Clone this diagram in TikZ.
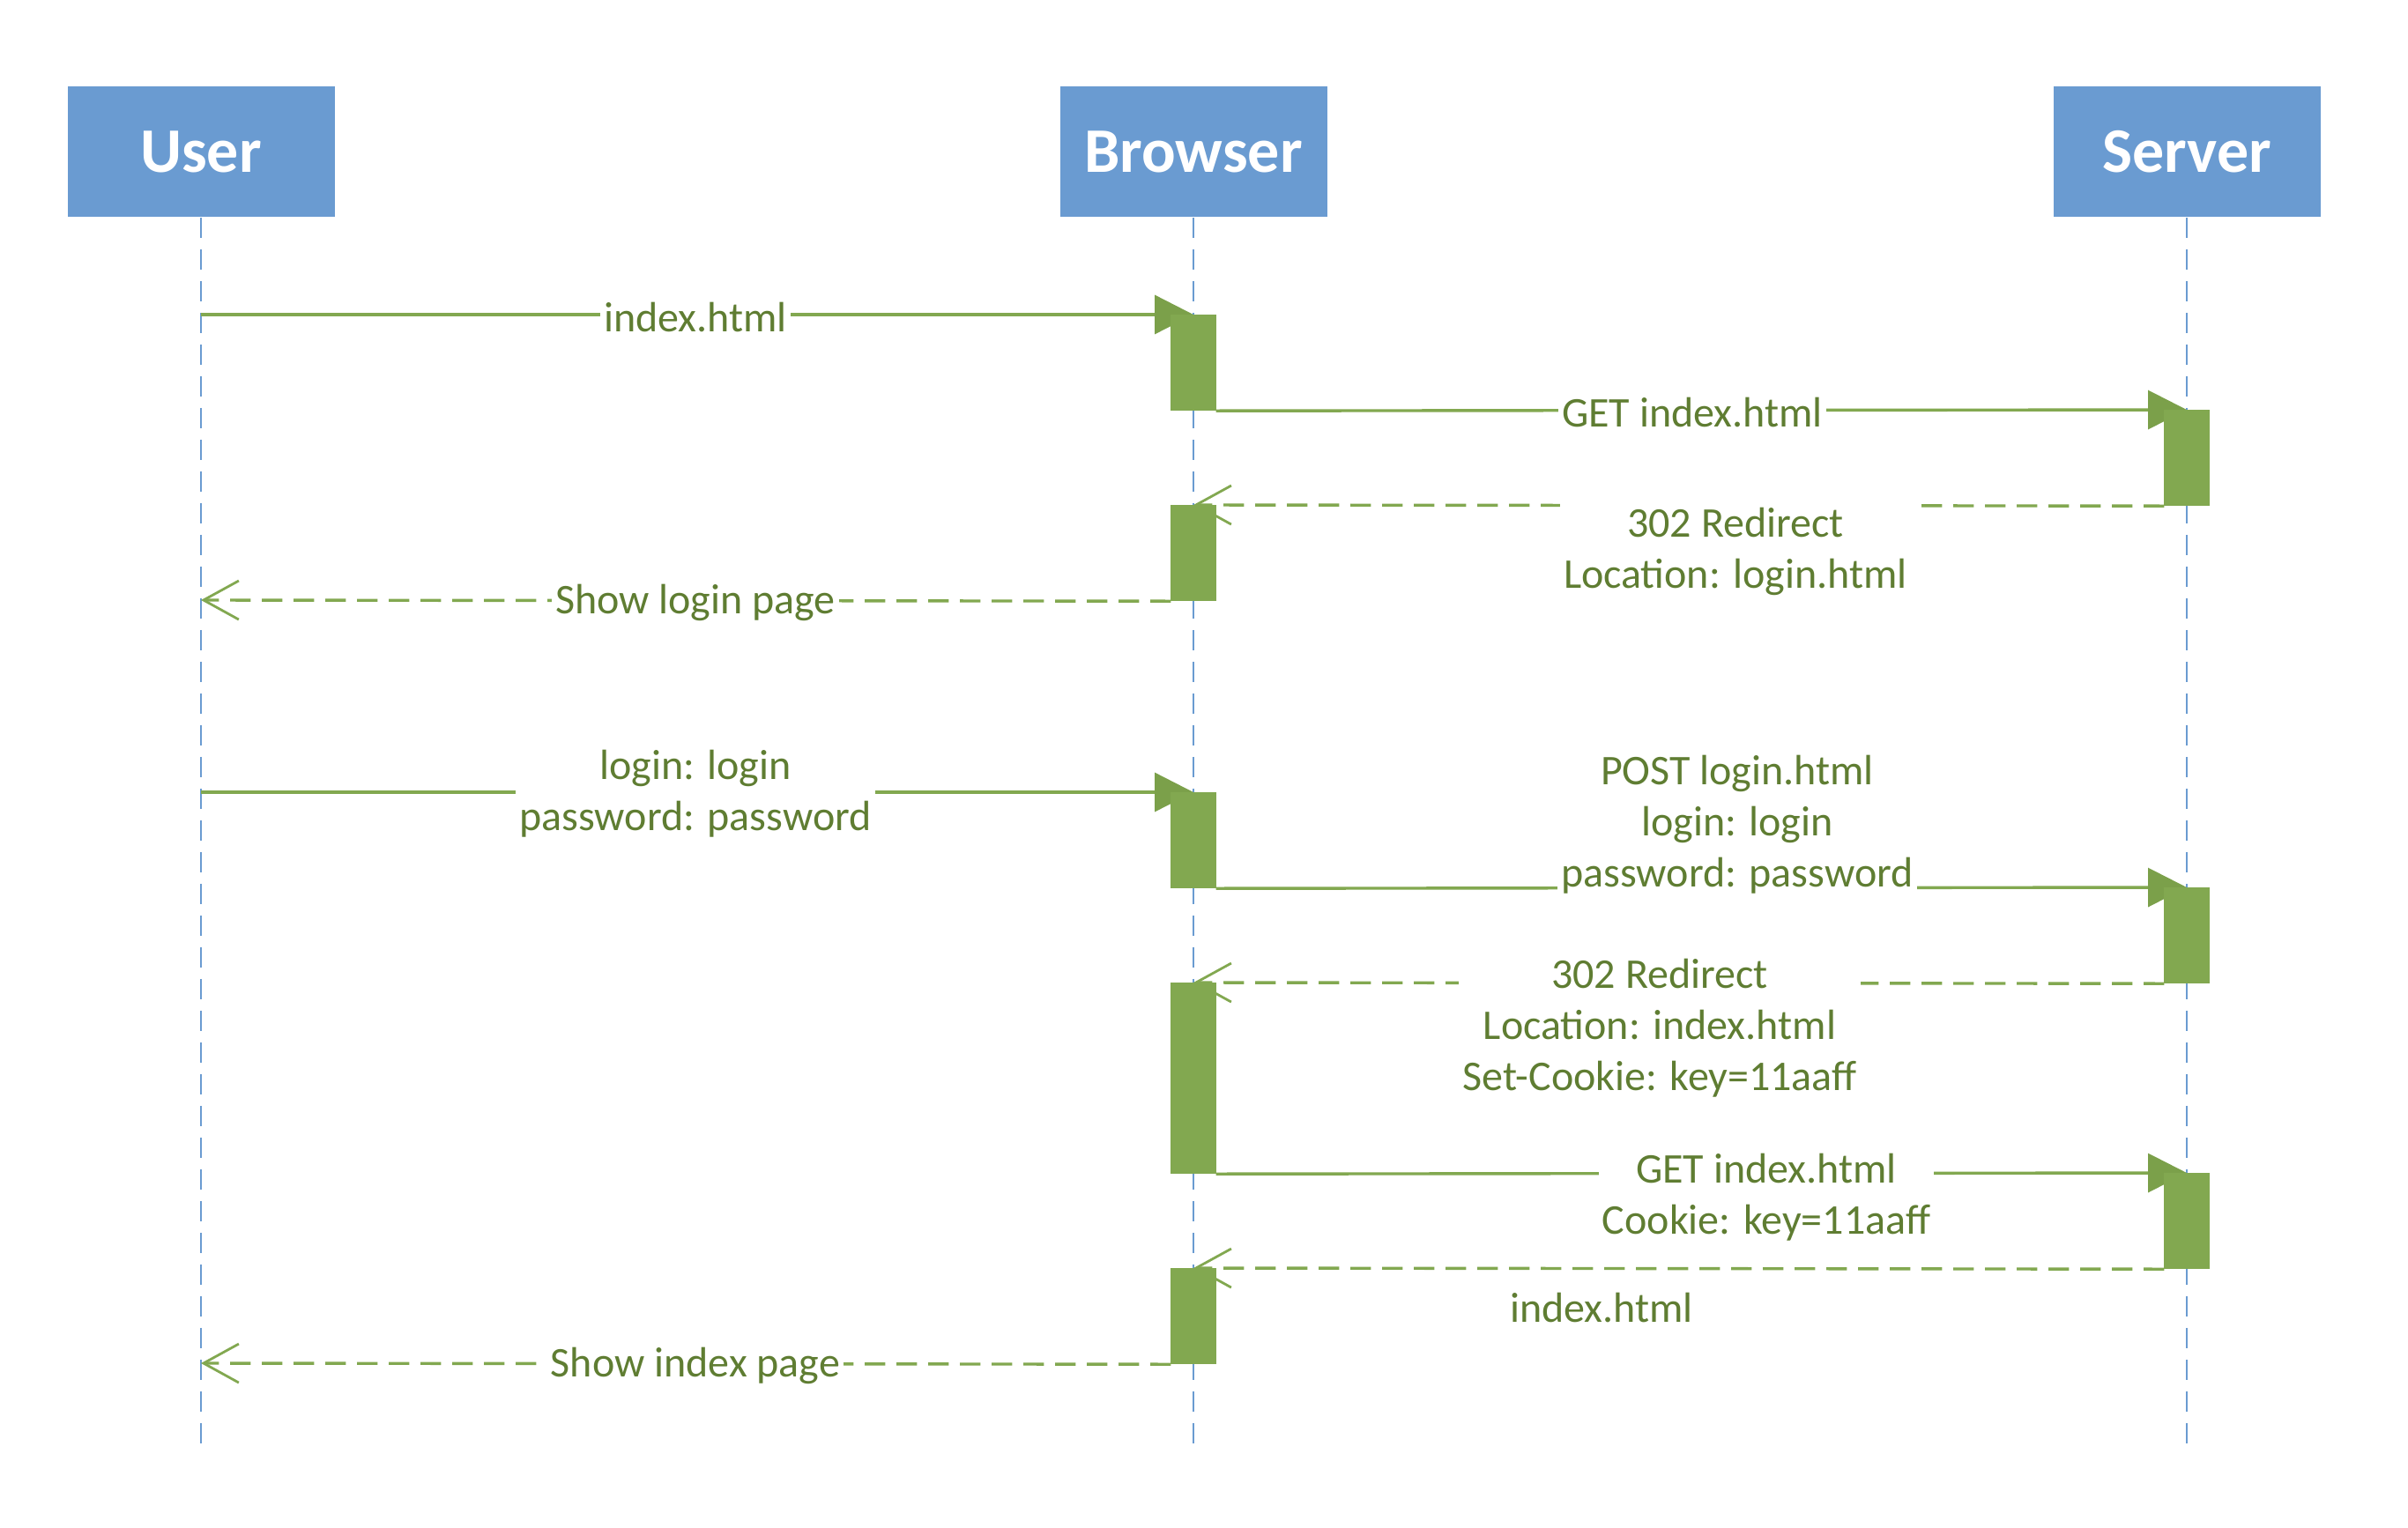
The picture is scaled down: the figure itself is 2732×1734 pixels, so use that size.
\documentclass[tikz,border=0pt]{standalone}
\usepackage{fontspec}
\setmainfont{Carlito}
\usetikzlibrary{arrows.meta}
\definecolor{hdr}{HTML}{6A9BD1}
\definecolor{grn}{HTML}{82A850}
\definecolor{grnd}{HTML}{7BA04A}
\definecolor{txt}{HTML}{5F7D32}
\pgfdeclarelayer{bg}
\pgfsetlayers{bg,main}
\begin{document}
\begin{tikzpicture}[x=0.25pt,y=-0.25pt,
  hdrbox/.style={fill=hdr, text=white, font=\fontsize{18}{22}\selectfont\bfseries, minimum width=75.75pt, minimum height=37pt, inner sep=0pt},
  life/.style={draw=hdr, line width=0.7pt, dash pattern=on 5.8pt off 3.2pt},
  actbar/.style={fill=grn, draw=grn, line width=0.3pt, minimum width=12.5pt, inner sep=0pt, anchor=north},
  call/.style={draw=grn, line width=0.85pt, -{Triangle[length=11pt,width=11pt,fill=grnd,color=grnd]}},
  ret/.style={draw=grn, line width=0.85pt, dash pattern=on 5.8pt off 3.2pt, -{Straight Barb[length=10pt,width=11pt,line width=0.7pt]}},
  lbl/.style={fill=white, text=txt, font=\fontsize{12}{14.5}\selectfont, align=center, inner xsep=1pt, inner ysep=2pt}]
\useasboundingbox (0,0) rectangle (2732,1734);
% headers
\node[hdrbox] (user) at (228,172) {User};
\node[hdrbox] (browser) at (1354,172) {Browser};
\node[hdrbox] (server) at (2481,172) {Server};
\coordinate (uend) at (228,1641);
\coordinate (bend) at (1354,1641);
\coordinate (send) at (2481,1641);
% activation bars
\node[actbar, minimum height=27pt] (b1) at (1354,357) {};
\node[actbar, minimum height=27pt] (s1) at (2481,465) {};
\node[actbar, minimum height=27pt] (b2) at (1354,573) {};
\node[actbar, minimum height=27pt] (b3) at (1354,899) {};
\node[actbar, minimum height=27pt] (s2) at (2481,1007) {};
\node[actbar, minimum height=54pt] (b4) at (1354,1115) {};
\node[actbar, minimum height=27pt] (s3) at (2481,1331) {};
\node[actbar, minimum height=27pt] (b5) at (1354,1439) {};
\coordinate (u1) at (228,357);
\coordinate (u2) at (228,681);
\coordinate (u3) at (228,899);
\coordinate (u5) at (228,1547);
\begin{pgfonlayer}{bg}
\draw[life] (user.south) -- (uend);
\draw[life] (browser.south) -- (bend);
\draw[life] (server.south) -- (send);
\draw[call] (u1) -- (b1.north);
\draw[call] (b1.south east) -- (s1.north);
\draw[call] (u3) -- (b3.north);
\draw[call] (b3.south east) -- (s2.north);
\draw[call] (b4.south east) -- (s3.north);
\end{pgfonlayer}
% returns
\draw[ret] (s1.south west) -- (b2.north);
\draw[ret] (b2.south west) -- (u2);
\draw[ret] (s2.south west) -- (b4.north);
\draw[ret] (s3.south west) -- (b5.north);
\draw[ret] (b5.south west) -- (u5);
% labels
\node[lbl] (l1) at (789,360) {index.html};
\node[lbl] (l2) at (1920,468) {GET index.html};
\node[lbl] (l3) at (1969,626) {302 Redirect\\Location: login.html};
\node[lbl] (l4) at (789,684) {Show login page};
\node[lbl] (l5) at (789,901) {login: login\\password: password};
\node[lbl] (l6) at (1971,936) {POST login.html\\login: login\\password: password};
\node[lbl] (l7) at (1883,1167) {302 Redirect\\Location: index.html\\Set-Cookie: key=11aaff};
\node[lbl] (l8) at (2004,1359) {GET index.html\\Cookie: key=11aaff};
\node[lbl] (l9) at (1817,1484) {index.html};
\node[lbl] (l10) at (789,1550) {Show index page};
\end{tikzpicture}
\end{document}
